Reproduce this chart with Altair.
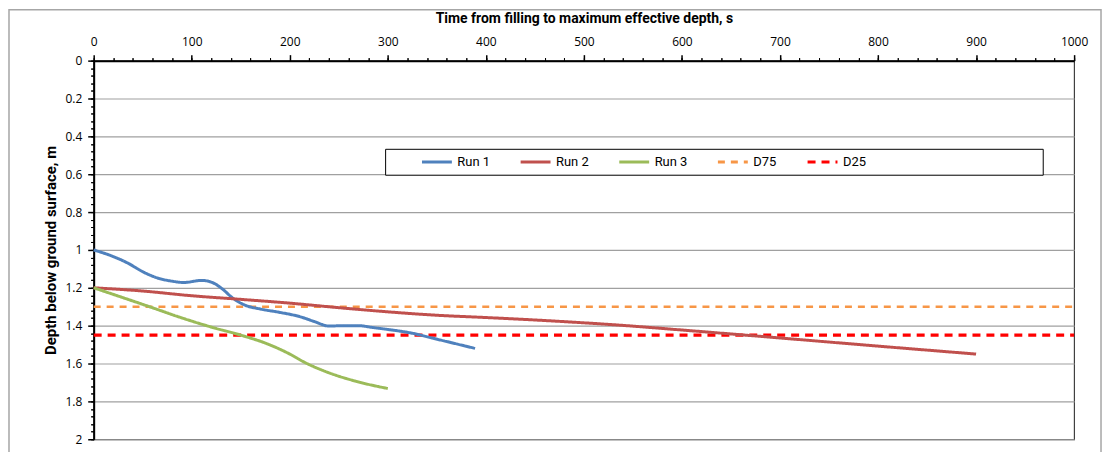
import altair as alt
import pandas as pd

# ---------------- data ----------------
series_names = ["Run 1", "Run 2", "Run 3", "D75", "D25"]
series_colors = ["#4F81BD", "#C0504D", "#9BBB59", "#F79646", "#FF0000"]
series_dash = [[1, 0], [1, 0], [1, 0], [7, 6], [8, 6]]

run1_t = [0, 20, 35, 50, 65, 80, 92, 110, 121, 131, 142, 155, 170, 190, 210, 225, 240, 255, 270, 285, 300, 325, 345, 365, 389]
run1_d = [1.00, 1.035, 1.07, 1.115, 1.148, 1.165, 1.172, 1.161, 1.172, 1.205, 1.255, 1.293, 1.312, 1.330, 1.352, 1.378, 1.402, 1.400, 1.400, 1.410, 1.420, 1.440, 1.465, 1.490, 1.520]

run2_t = [0, 50, 100, 150, 200, 250, 300, 350, 400, 450, 500, 530, 600, 700, 800, 900]
run2_d = [1.200, 1.217, 1.242, 1.261, 1.281, 1.305, 1.327, 1.345, 1.357, 1.370, 1.385, 1.395, 1.423, 1.465, 1.508, 1.550]

run3_t = [0, 57, 87, 121, 148, 179, 200, 216, 240, 267, 300]
run3_d = [1.20, 1.30, 1.354, 1.409, 1.447, 1.50, 1.55, 1.596, 1.649, 1.693, 1.732]

ref_names = ["D75", "D25"]
ref_depths = [1.30, 1.45]

x_domain = [0, 1000]
y_domain = [0, 2]
x_ticks = [0, 100, 200, 300, 400, 500, 600, 700, 800, 900, 1000]
x_minor = list(range(0, 1001, 20))
y_ticks = [0, 0.2, 0.4, 0.6, 0.8, 1.0, 1.2, 1.4, 1.6, 1.8, 2.0]
y_minor = [round(i * 0.04, 2) for i in range(51)]

x_title = "Time from filling to maximum effective depth, s"
y_title = "Depth below ground surface, m"

# ---------------- tables ----------------
rows = []
for name, ts, ds in [("Run 1", run1_t, run1_d), ("Run 2", run2_t, run2_d), ("Run 3", run3_t, run3_d)]:
    for t, d in zip(ts, ds):
        rows.append({"series": name, "t": t, "d": d})
lines_df = pd.DataFrame(rows)

refs_df = pd.DataFrame({
    "series": ref_names,
    "depth": ref_depths,
    "x0": [x_domain[0]] * 2,
    "x1": [x_domain[1]] * 2,
})

TICK_FONT = "Open Sans"
NARROW = "Liberation Sans Narrow, Arial Narrow, Roboto, sans-serif"

x_scale = alt.Scale(domain=x_domain, nice=False, zero=False)
y_scale = alt.Scale(domain=y_domain, reverse=True, nice=False)

color_scale = alt.Scale(domain=series_names, range=series_colors)
dash_scale = alt.Scale(domain=series_names, range=series_dash)

legend = alt.Legend(
    orient="none", legendX=328, legendY=85, direction="horizontal", columns=5,
    title=None, symbolType="stroke", symbolSize=900, symbolStrokeWidth=3,
    labelFont=NARROW, labelFontSize=13, labelColor="black", labelOffset=4,
    columnPadding=24, padding=0,
)

major_x_axis = alt.Axis(
    orient="top", values=x_ticks, format="d", title=x_title, titleFont=NARROW, titleFontSize=14,
    titleFontWeight="bold", titleColor="black", titlePadding=10,
    labelFont=TICK_FONT, labelFontSize=12, labelColor="black", labelPadding=6,
    tickSize=6, tickColor="black", tickWidth=1.5, domainColor="black", domainWidth=2,
    grid=False, labelFlush=False,
)
major_y_axis = alt.Axis(
    orient="left", values=y_ticks, format=".1~f", title=y_title, titleFont=NARROW,
    titleFontSize=15, titleFontWeight="bold", titleColor="black", titlePadding=6,
    labelFont=TICK_FONT, labelFontSize=12, labelColor="black", labelPadding=6,
    tickSize=6, tickColor="black", tickWidth=1.5, domainColor="black", domainWidth=2,
    grid=True, gridColor="#A0A0A0", gridWidth=1.2, labelFlush=False,
)
minor_x_axis = alt.Axis(
    orient="top", values=x_minor, title=None, labels=False, domain=False, grid=False,
    tickSize=3, tickColor="black", tickWidth=1,
)
minor_y_axis = alt.Axis(
    orient="left", values=y_minor, title=None, labels=False, domain=False, grid=False,
    tickSize=3, tickColor="black", tickWidth=1,
)

one = pd.DataFrame({"k": [0]})

frame = alt.Chart(one).mark_rect(fill=None, stroke="#A6A6A6", strokeWidth=1.5).encode(
    x=alt.value(-85), x2=alt.value(1011), y=alt.value(-51), y2=alt.value(420)
)

legend_box = alt.Chart(one).mark_rect(fill="white", stroke="black", strokeWidth=1).encode(
    x=alt.value(293), x2=alt.value(953), y=alt.value(89), y2=alt.value(115)
)

lines = alt.Chart(lines_df).mark_line(strokeWidth=3, interpolate="monotone").encode(
    x=alt.X("t:Q", scale=x_scale, axis=major_x_axis),
    y=alt.Y("d:Q", scale=y_scale, axis=major_y_axis),
    color=alt.Color("series:N", scale=color_scale, legend=legend, sort=series_names),
    strokeDash=alt.StrokeDash("series:N", scale=dash_scale, legend=legend, sort=series_names),
    detail="series:N",
)

ref_base = alt.Chart(refs_df).encode(
    x=alt.X("x0:Q", scale=x_scale, axis=minor_x_axis),
    x2="x1:Q",
    y=alt.Y("depth:Q", scale=y_scale, axis=minor_y_axis),
    color=alt.Color("series:N", scale=color_scale, legend=legend, sort=series_names),
    strokeDash=alt.StrokeDash("series:N", scale=dash_scale, legend=legend, sort=series_names),
)
d75 = ref_base.transform_filter(alt.datum.series == "D75").mark_rule(strokeWidth=2.5)
d25 = ref_base.transform_filter(alt.datum.series == "D25").mark_rule(strokeWidth=3.5)

chart = alt.layer(frame, d75, d25, lines, legend_box).resolve_axis(
    x="independent", y="independent"
).properties(
    width=984, height=380,
    autosize=alt.AutoSizeParams(type="none"),
    padding={"left": 86, "top": 52, "right": 30, "bottom": 20},
).configure_view(stroke="#404040", strokeWidth=1.2)

chart.save("out.html", embed_options={"renderer": "svg", "actions": False})
